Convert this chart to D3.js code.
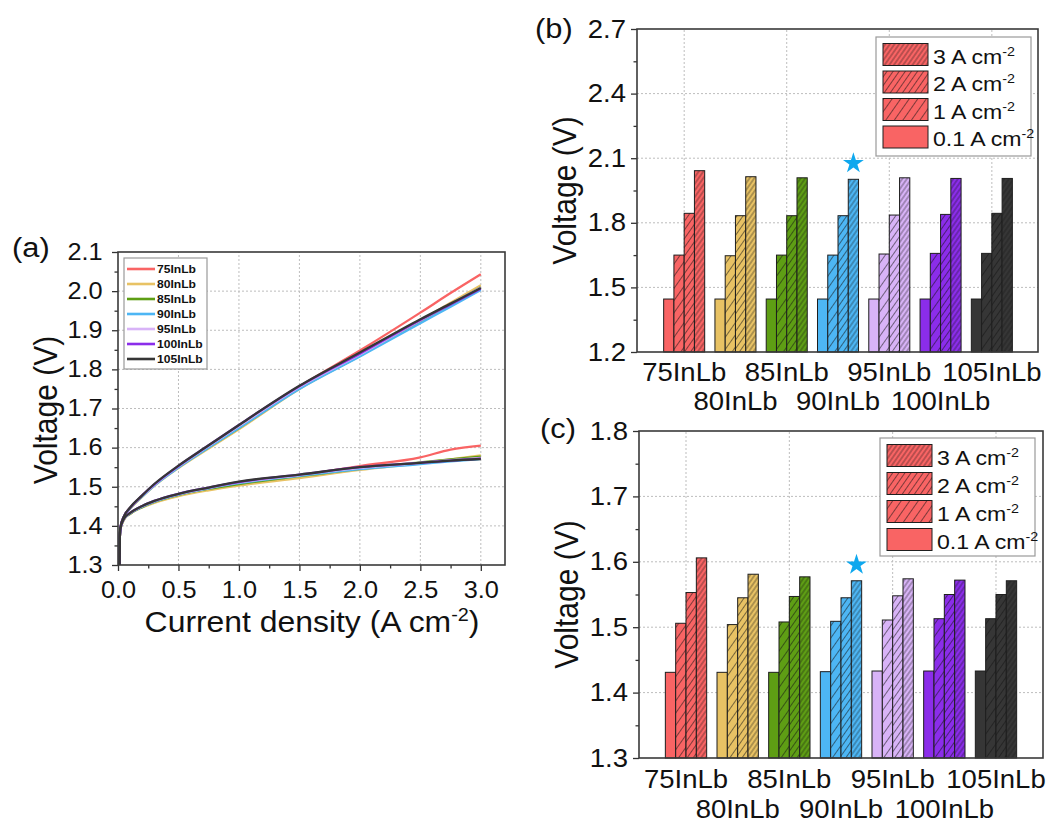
<!DOCTYPE html>
<html>
<head>
<meta charset="utf-8">
<script src="https://cdn.jsdelivr.net/npm/d3@7"></script>
<style>
  body { margin: 0; background: #fff; }
  svg { display: block; font-family: Arial, "Liberation Sans", sans-serif; }
</style>
</head>
<body>
<div id="fig"></div>
<script>

// ---- data ----
const samples = ["75InLb", "80InLb", "85InLb", "90InLb", "95InLb", "100InLb", "105InLb"];
const sampleColors = ["#F96464", "#E8C264", "#5E9E14", "#4DB6F4", "#D8B3F7", "#8B2DEA", "#363636"];

// polarization curves, current density (A cm-2)
const currentX = [0.012, 0.015, 0.02, 0.05, 0.1, 0.2, 0.3, 0.5, 0.75, 1.0, 1.5, 2.0, 2.5, 2.75, 3.0];
const curvesUpper = [
    [1.29, 1.37, 1.395, 1.425, 1.446, 1.477, 1.505, 1.551, 1.603, 1.652, 1.756, 1.848, 1.945, 1.995, 2.043],
    [1.29, 1.37, 1.394, 1.423, 1.444, 1.474, 1.502, 1.548, 1.598, 1.647, 1.750, 1.835, 1.925, 1.970, 2.015],
    [1.29, 1.37, 1.395, 1.424, 1.445, 1.476, 1.504, 1.550, 1.601, 1.650, 1.752, 1.835, 1.923, 1.966, 2.010],
    [1.29, 1.37, 1.395, 1.424, 1.445, 1.475, 1.503, 1.549, 1.600, 1.650, 1.750, 1.833, 1.918, 1.960, 2.003],
    [1.29, 1.37, 1.396, 1.425, 1.446, 1.477, 1.505, 1.552, 1.604, 1.655, 1.755, 1.838, 1.925, 1.967, 2.009],
    [1.29, 1.37, 1.396, 1.425, 1.446, 1.478, 1.506, 1.553, 1.606, 1.658, 1.757, 1.840, 1.926, 1.966, 2.006],
    [1.29, 1.37, 1.396, 1.425, 1.447, 1.478, 1.507, 1.554, 1.606, 1.658, 1.758, 1.843, 1.928, 1.968, 2.008]
];
const curvesLower = [
    [1.29, 1.37, 1.392, 1.418, 1.431, 1.449, 1.462, 1.480, 1.495, 1.506, 1.529, 1.553, 1.575, 1.595, 1.605],
    [1.29, 1.37, 1.391, 1.416, 1.431, 1.447, 1.459, 1.476, 1.491, 1.503, 1.522, 1.543, 1.560, 1.570, 1.580],
    [1.29, 1.37, 1.392, 1.417, 1.431, 1.448, 1.461, 1.479, 1.495, 1.507, 1.527, 1.546, 1.562, 1.570, 1.577],
    [1.29, 1.37, 1.392, 1.418, 1.432, 1.449, 1.462, 1.480, 1.496, 1.509, 1.528, 1.545, 1.558, 1.565, 1.571],
    [1.29, 1.37, 1.393, 1.418, 1.433, 1.450, 1.463, 1.481, 1.497, 1.511, 1.530, 1.548, 1.561, 1.568, 1.574],
    [1.29, 1.37, 1.393, 1.419, 1.433, 1.451, 1.464, 1.482, 1.498, 1.512, 1.531, 1.550, 1.561, 1.567, 1.572],
    [1.29, 1.37, 1.393, 1.419, 1.433, 1.451, 1.464, 1.482, 1.498, 1.513, 1.531, 1.550, 1.561, 1.567, 1.571]
];

// bar charts: voltage at 0.1, 1, 2, 3 A cm-2
const densityLabels = ["0.1", "1", "2", "3"];
const barsB = [
    [1.446, 1.650, 1.844, 2.042],
    [1.446, 1.647, 1.833, 2.014],
    [1.446, 1.650, 1.833, 2.009],
    [1.446, 1.650, 1.833, 2.002],
    [1.446, 1.655, 1.836, 2.009],
    [1.446, 1.658, 1.839, 2.006],
    [1.446, 1.658, 1.844, 2.006]
];
const barsC = [
    [1.431, 1.506, 1.553, 1.606],
    [1.431, 1.504, 1.545, 1.581],
    [1.431, 1.508, 1.547, 1.577],
    [1.432, 1.509, 1.545, 1.571],
    [1.433, 1.511, 1.548, 1.574],
    [1.433, 1.513, 1.550, 1.572],
    [1.433, 1.513, 1.550, 1.571]
];
const starSample = "90InLb";

const ticksA_x = [0, 0.5, 1.0, 1.5, 2.0, 2.5, 3.0];
const ticksA_y = [1.3, 1.4, 1.5, 1.6, 1.7, 1.8, 1.9, 2.0, 2.1];
const ticksB_y = [1.2, 1.5, 1.8, 2.1, 2.4, 2.7];
const ticksC_y = [1.3, 1.4, 1.5, 1.6, 1.7, 1.8];

// ---- drawing ----
const W = 1056, H = 826;
const sx = 1.1; // the source picture is slightly stretched sideways

const svg = d3.select("#fig").append("svg").attr("width", W).attr("height", H);
svg.append("rect").attr("width", W).attr("height", H).attr("fill", "#fff");

const defs = svg.append("defs");
// hatch gaps for 1, 2, 3 A cm-2
const hatchGaps = [7, 5, 3.8];
hatchGaps.forEach((gap, k) => {
    const p = defs.append("pattern")
        .attr("id", "hatch" + (k + 1))
        .attr("patternUnits", "userSpaceOnUse")
        .attr("width", gap).attr("height", gap)
        .attr("patternTransform", "rotate(35)");
    p.append("line")
        .attr("x1", gap / 2).attr("x2", gap / 2)
        .attr("y1", 0).attr("y2", gap)
        .attr("stroke", "rgba(20,20,20,0.6)")
        .attr("stroke-width", 0.9);
});

function label(g, x, y, str, size, anchor, weight) {
    return g.append("text")
        .attr("transform", `translate(${x},${y}) scale(${sx},1)`)
        .attr("text-anchor", anchor || "start")
        .attr("fill", "#111")
        .style("font-size", size + "px")
        .style("font-weight", weight || "normal")
        .text(str);
}

// text ending in "cm-2" with a raised -2
function unitLabel(g, x, y, str, size, supSize, anchor, closing) {
    const t = label(g, x, y, str, size, anchor);
    t.append("tspan").attr("dy", -size * 0.38).style("font-size", supSize + "px").text("-2");
    if (closing) t.append("tspan").attr("dy", size * 0.38).text(closing);
    return t;
}

function yTitle(g, x, y, size) {
    g.append("text")
        .attr("transform", `translate(${x},${y}) scale(${sx},1) rotate(-90)`)
        .attr("text-anchor", "middle")
        .attr("fill", "#111")
        .style("font-size", size + "px")
        .text("Voltage (V)");
}

function styleAxis(g, size) {
    g.select(".domain").remove();
    g.selectAll(".tick line").attr("stroke", "#333").attr("stroke-width", 1.3);
    g.selectAll(".tick text").attr("fill", "#111").style("font-size", size + "px")
        .attr("transform", `scale(${sx},1)`);
}

function midpoints(arr) {
    return arr.slice(1).map((v, i) => (v + arr[i]) / 2);
}

function grid(g, x, y, xs, ys) {
    g.selectAll(null).data(xs).join("line")
        .attr("x1", d => x(d)).attr("x2", d => x(d))
        .attr("y1", y.range()[0]).attr("y2", y.range()[1])
        .attr("stroke", "#bdbdbd").attr("stroke-width", 1).attr("stroke-dasharray", "2,2");
    g.selectAll(null).data(ys).join("line")
        .attr("x1", x.range()[0]).attr("x2", x.range()[1])
        .attr("y1", d => y(d)).attr("y2", d => y(d))
        .attr("stroke", "#bdbdbd").attr("stroke-width", 1).attr("stroke-dasharray", "2,2");
}

function frame(g, x, y) {
    g.append("rect")
        .attr("x", x.range()[0]).attr("y", y.range()[1])
        .attr("width", x.range()[1] - x.range()[0])
        .attr("height", y.range()[0] - y.range()[1])
        .attr("fill", "none").attr("stroke", "#3a3a3a").attr("stroke-width", 1.6);
}

// ---------- panel (a) ----------
const gA = svg.append("g");
const xA = d3.scaleLinear().domain([0, 3.2]).range([118, 505]);
const yA = d3.scaleLinear().domain([1.3, 2.1]).range([565, 252]);

grid(gA, xA, yA, ticksA_x.slice(1), ticksA_y.slice(1, -1));

defs.append("clipPath").attr("id", "clipA").append("rect")
    .attr("x", 118).attr("y", 252).attr("width", 505 - 118).attr("height", 565 - 252);

const lineA = d3.line().x(d => xA(d[0])).y(d => yA(d[1])).curve(d3.curveMonotoneX);
const curveG = gA.append("g").attr("clip-path", "url(#clipA)");
samples.forEach((s, i) => {
    [curvesUpper[i], curvesLower[i]].forEach(vals => {
        curveG.append("path")
            .datum(currentX.map((c, k) => [c, vals[k]]))
            .attr("d", lineA)
            .attr("fill", "none")
            .attr("stroke", sampleColors[i])
            .attr("stroke-width", 2.3);
    });
});

gA.append("g").attr("transform", "translate(0,565)")
    .call(d3.axisBottom(xA).tickValues(midpoints(ticksA_x)).tickSize(3.5).tickFormat(""))
    .call(g => styleAxis(g, 23));
gA.append("g").attr("transform", "translate(0,565)")
    .call(d3.axisBottom(xA).tickValues(ticksA_x).tickSize(6).tickPadding(11).tickFormat(d3.format(".1f")))
    .call(g => styleAxis(g, 23));
gA.append("g").attr("transform", "translate(118,0)")
    .call(d3.axisLeft(yA).tickValues(midpoints(ticksA_y)).tickSize(3.5).tickFormat(""))
    .call(g => styleAxis(g, 23));
gA.append("g").attr("transform", "translate(118,0)")
    .call(d3.axisLeft(yA).tickValues(ticksA_y).tickSize(6).tickPadding(8).tickFormat(d3.format(".1f")))
    .call(g => styleAxis(g, 23));
frame(gA, xA, yA);

// legend (a)
const legA = gA.append("g");
legA.append("rect").attr("x", 124).attr("y", 258).attr("width", 83).attr("height", 111)
    .attr("fill", "#fff").attr("stroke", "#9a9a9a").attr("stroke-width", 1.2);
samples.forEach((s, i) => {
    const yy = 269 + i * 15;
    legA.append("line").attr("x1", 127).attr("x2", 155).attr("y1", yy).attr("y2", yy)
        .attr("stroke", sampleColors[i]).attr("stroke-width", 2.6);
    label(legA, 157, yy + 4, s, 11, "start", "bold");
});

unitLabel(gA, 312, 632, "Current density (A cm", 29, 18, "middle", ")");
yTitle(gA, 57, 410, 30);
label(gA, 12, 257, "(a)", 28, "start");

// ---------- bar panels ----------
function barPanel(cfg) {
    const g = svg.append("g");
    const x = d3.scaleLinear().domain(cfg.xDomain).range(cfg.xRange);
    const y = d3.scaleLinear().domain(cfg.yDomain).range(cfg.yRange);
    const groups = samples.map((s, i) => i + 1);

    grid(g, x, y, [1, 3, 5, 7], cfg.yTicks.slice(1, -1));

    const bw = 0.2;
    samples.forEach((s, i) => {
        cfg.data[i].forEach((v, j) => {
            const x0 = x(groups[i] - 2 * bw + j * bw);
            const w = x(groups[i] - bw + j * bw) - x0;
            g.append("rect").attr("x", x0).attr("y", y(v))
                .attr("width", w).attr("height", y(cfg.yDomain[0]) - y(v))
                .attr("fill", sampleColors[i]);
            if (j > 0) {
                g.append("rect").attr("x", x0).attr("y", y(v))
                    .attr("width", w).attr("height", y(cfg.yDomain[0]) - y(v))
                    .attr("fill", `url(#hatch${j})`);
            }
            g.append("rect").attr("x", x0).attr("y", y(v))
                .attr("width", w).attr("height", y(cfg.yDomain[0]) - y(v))
                .attr("fill", "none").attr("stroke", "#1e1e1e").attr("stroke-width", 1);
        });
    });

    // star over the chosen sample at 3 A cm-2
    const si = samples.indexOf(starSample);
    g.append("path")
        .attr("d", d3.symbol(d3.symbolStar, 135)())
        .attr("transform", `translate(${x(groups[si] + 1.5 * bw)},${y(cfg.data[si][3]) - 16})`)
        .attr("fill", "#0FA8EE");

    g.append("g").attr("transform", `translate(${cfg.xRange[0]},0)`)
        .call(d3.axisLeft(y).tickValues(midpoints(cfg.yTicks)).tickSize(3.5).tickFormat(""))
        .call(a => styleAxis(a, 25));
    g.append("g").attr("transform", `translate(${cfg.xRange[0]},0)`)
        .call(d3.axisLeft(y).tickValues(cfg.yTicks).tickSize(6).tickPadding(4).tickFormat(d3.format(".1f")))
        .call(a => styleAxis(a, 25));
    frame(g, x, y);

    samples.forEach((s, i) => {
        const row = i % 2 === 0 ? cfg.row1 : cfg.row2;
        label(g, x(groups[i]), row, s, 25, "middle");
    });

    // legend
    const L = cfg.legend;
    g.append("rect").attr("x", L.x).attr("y", L.y).attr("width", L.w).attr("height", L.h)
        .attr("fill", "#fff").attr("stroke", "#9a9a9a").attr("stroke-width", 1.2);
    [3, 2, 1, 0].forEach((j, r) => {
        const yy = L.y + 6.5 + r * L.pitch;
        g.append("rect").attr("x", L.x + 7).attr("y", yy).attr("width", 45).attr("height", 22)
            .attr("fill", sampleColors[0]);
        if (j > 0) {
            g.append("rect").attr("x", L.x + 7).attr("y", yy).attr("width", 45).attr("height", 22)
                .attr("fill", `url(#hatch${j})`);
        }
        g.append("rect").attr("x", L.x + 7).attr("y", yy).attr("width", 45).attr("height", 22)
            .attr("fill", "none").attr("stroke", "#1e1e1e").attr("stroke-width", 1);
        unitLabel(g, L.x + 57, yy + 20, densityLabels[j] + " A cm", 21, 13, "start");
    });

    yTitle(g, cfg.titleX, (cfg.yRange[0] + cfg.yRange[1]) / 2, 30);
    label(g, cfg.tag[0], cfg.tag[1], cfg.tag[2], 28, "start");
}

barPanel({
    xDomain: [0.08, 7.9], xRange: [637, 1038],
    yDomain: [1.2, 2.7], yRange: [352, 29],
    yTicks: ticksB_y, data: barsB,
    row1: 381, row2: 410,
    legend: { x: 876, y: 37, w: 155, h: 119, pitch: 27.5 },
    titleX: 576, tag: [535, 38, "(b)"]
});

barPanel({
    xDomain: [0.09, 7.91], xRange: [639, 1043],
    yDomain: [1.3, 1.8], yRange: [758, 431],
    yTicks: ticksC_y, data: barsC,
    row1: 788, row2: 818,
    legend: { x: 880, y: 438, w: 155, h: 118, pitch: 28 },
    titleX: 578, tag: [540, 438, "(c)"]
});

</script>
</body>
</html>
